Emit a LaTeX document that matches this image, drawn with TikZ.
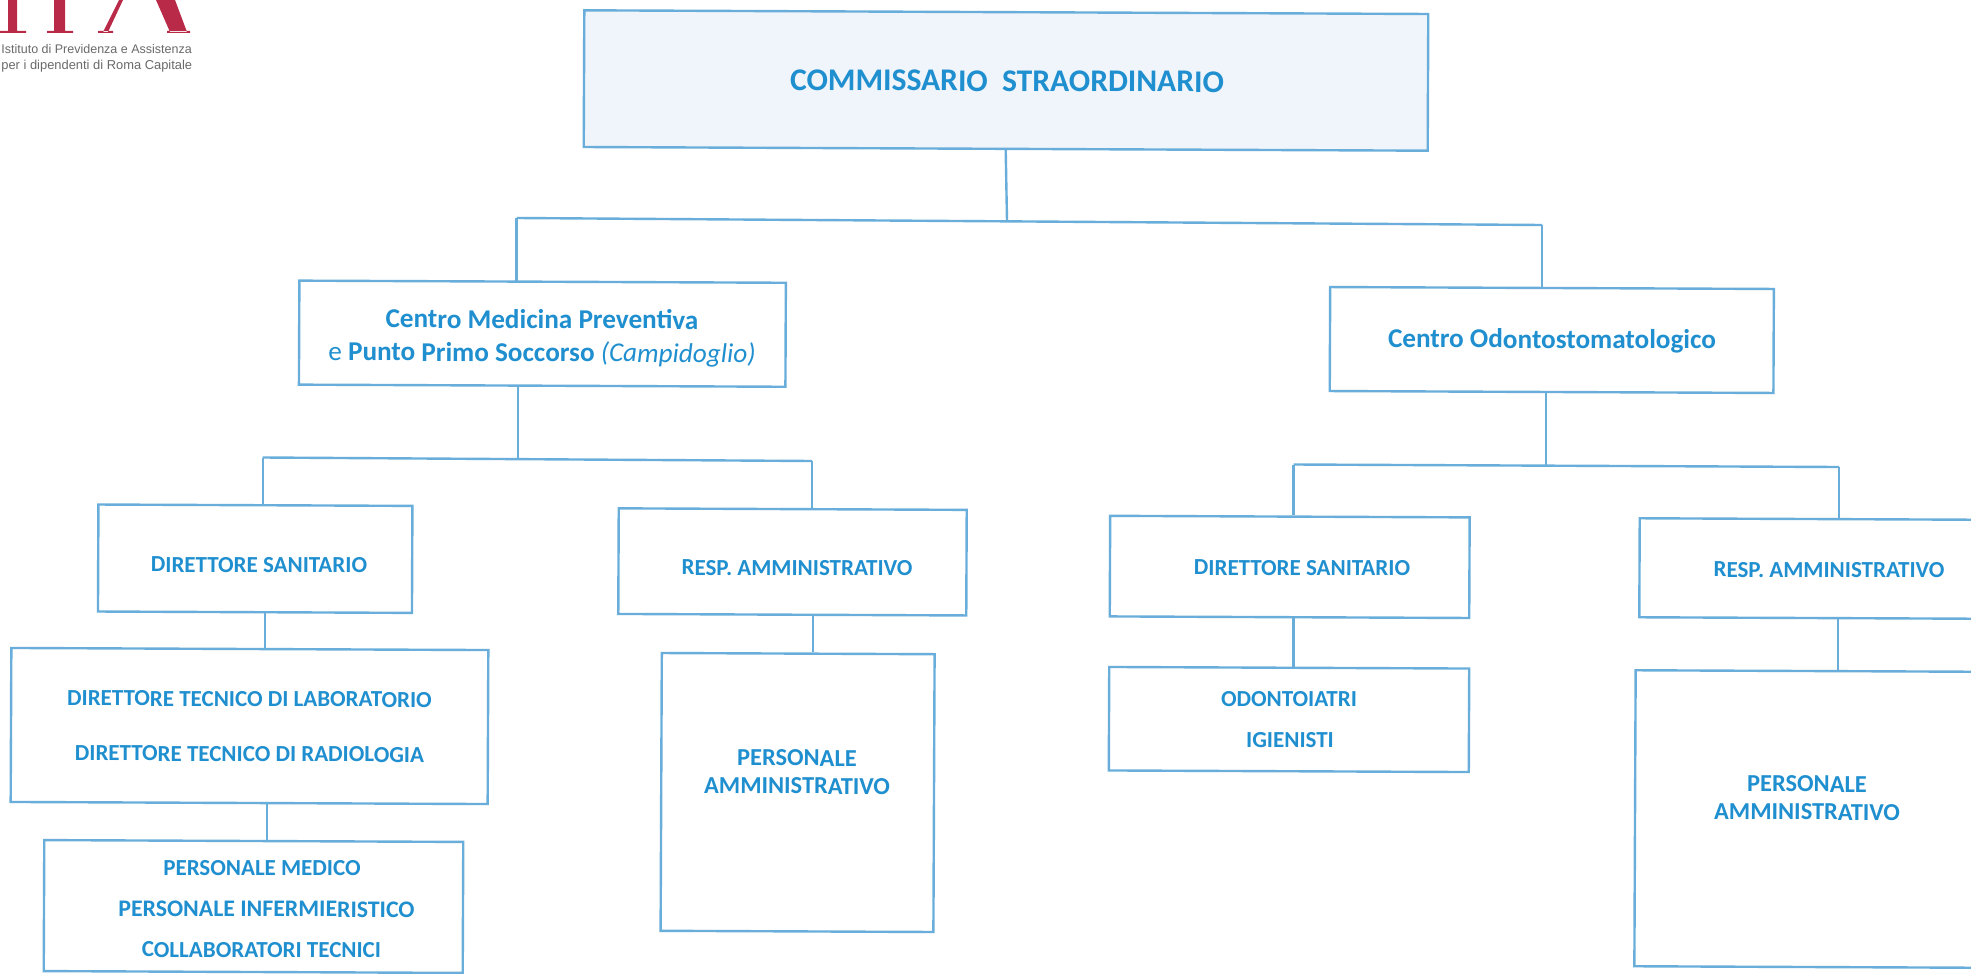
\documentclass[tikz,border=0pt]{standalone}
\usepackage{fontspec}
\setmainfont{Carlito}
\newfontfamily\logofont{Liberation Sans}
\definecolor{linecol}{HTML}{69AEDA}
\definecolor{textcol}{HTML}{1F8FCF}
\definecolor{topfill}{HTML}{F0F5FB}
\definecolor{logored}{HTML}{B82A48}
\definecolor{logogrey}{HTML}{6A6A6A}
\tikzset{
  chartbox/.style={draw=linecol,line width=1.2pt,rotate=-0.25,inner sep=0pt},
  bsize/.style 2 args={minimum width=#1*0.5pt,minimum height=#2*0.5pt},
  conn/.style={draw=linecol,line width=1.2pt},
  lbl/.style={text=textcol,font=\bfseries\fontsize{11.5}{13}\selectfont,rotate=-0.25,inner sep=0pt},
  palbl/.style={lbl,font=\bfseries\fontsize{12.2}{14}\selectfont},
  midlbl/.style={lbl,font=\bfseries\fontsize{13.6}{16}\selectfont},
  logotext/.style={text=logogrey,font=\logofont\fontsize{6.45}{7}\selectfont,inner sep=0pt,anchor=west}
}
\begin{document}
\begin{tikzpicture}[x=0.5pt,y=-0.5pt]
\clip (0,0) rectangle (1971,974);
\fill[white] (0,0) rectangle (1971,974);
% logo
\fill[logored] (0,31) rectangle (26,33) (8,0) rectangle (17,32);
\fill[logored] (47,31) rectangle (73,33) (54,0) rectangle (65,32);
\fill[logored] (98,31) rectangle (113,33) (103,32) -- (119,0) -- (123,0) -- (108,32) -- cycle;
\fill[logored] (167,31) rectangle (190,33) (170,32) -- (156,0) -- (175,0) -- (187,32) -- cycle;
\node[logotext,font=\logofont\fontsize{6.25}{7}\selectfont] (logoA) at (1,49.5) {Istituto di Previdenza e Assistenza};
\node[logotext] (logoB) at (1,66) {per i dipendenti di Roma Capitale};
% boxes
\node[chartbox,fill=topfill,bsize={844}{136.7}] (top) at (1006,80.5) {};
\node[chartbox,bsize={486.5}{104}] (cmp) at (542.4,333.7) {};
\node[chartbox,bsize={443.7}{104}] (odo) at (1551.8,340) {};
\node[chartbox,bsize={314}{107}] (dsa) at (255.2,558.7) {};
\node[chartbox,bsize={348}{105.6}] (raa) at (792.5,561.9) {};
\node[chartbox,bsize={477}{154}] (dtl) at (249.5,726) {};
\node[chartbox,bsize={419}{131}] (pme) at (253.5,906.5) {};
\node[chartbox,bsize={272.8}{277.8}] (paa) at (797.6,792.5) {};
\node[chartbox,bsize={359.5}{100.6}] (dsb) at (1289.7,566.9) {};
\node[chartbox,bsize={360}{103.5}] (ods) at (1289,719.5) {};
\node[chartbox,bsize={335}{99}] (rab) at (1807,568.5) {};
\node[chartbox,bsize={340}{296}] (pab) at (1805,819) {};
% labels
\node[lbl,font=\bfseries\fontsize{15.8}{18}\selectfont] (t0) at (1007,81) {COMMISSARIO\ \ STRAORDINARIO};
\node[midlbl] (t1) at (542,319) {Centro Medicina Preventiva};
\node[midlbl] (t2) at (542,354) {\mdseries e \bfseries Punto Primo Soccorso \mdseries\itshape (Campidoglio)};
\node[midlbl] (t3) at (1552,341) {Centro Odontostomatologico};
\node[lbl] (t4) at (259,565) {DIRETTORE SANITARIO};
\node[lbl] (t5) at (797,568) {RESP. AMMINISTRATIVO};
\node[lbl] (t6) at (249.5,699) {DIRETTORE TECNICO DI LABORATORIO};
\node[lbl] (t7) at (249.5,754) {DIRETTORE TECNICO DI RADIOLOGIA};
\node[lbl] (t8) at (262,868) {PERSONALE MEDICO};
\node[lbl,font=\bfseries\fontsize{11.9}{13}\selectfont] (t9) at (266.5,909) {PERSONALE INFERMIERISTICO};
\node[lbl] (t10) at (261.5,950) {COLLABORATORI TECNICI};
\node[palbl] (t11) at (797,758) {PERSONALE};
\node[palbl] (t12) at (797,786) {AMMINISTRATIVO};
\node[lbl] (t13) at (1302,568) {DIRETTORE SANITARIO};
\node[lbl] (t14) at (1829,570) {RESP. AMMINISTRATIVO};
\node[lbl] (t15) at (1289,699) {ODONTOIATRI};
\node[lbl] (t16) at (1290,740) {IGIENISTI};
\node[palbl] (t17) at (1807,784) {PERSONALE};
\node[palbl] (t18) at (1807,812) {AMMINISTRATIVO};
% junctions
\coordinate (j0) at (1007,221);
\coordinate (j0l) at (516.6,218);
\coordinate (j0r) at (1542,225);
\coordinate (j1) at (518,459.5);
\coordinate (j1l) at (262.7,457.5);
\coordinate (j1r) at (812,461);
\coordinate (j2) at (1546,466);
\coordinate (j2l) at (1293.5,464.5);
\coordinate (j2r) at (1839,467);
\coordinate (x1) at (265,0);
\coordinate (x2) at (267,0);
\coordinate (x3) at (813,0);
\coordinate (x4) at (1293.5,0);
\coordinate (x5) at (1838,0);
% connectors
\draw[conn] (top.south) -- (j0);
\draw[conn] (j0l) -- (j0r);
\draw[conn] (j0l) -- (j0l |- cmp.north);
\draw[conn] (j0r) -- (j0r |- odo.north);
\draw[conn] (j1 |- cmp.south) -- (j1);
\draw[conn] (j1l) -- (j1r);
\draw[conn] (j1l) -- (j1l |- dsa.north);
\draw[conn] (j1r) -- (j1r |- raa.north);
\draw[conn] (j2 |- odo.south) -- (j2);
\draw[conn] (j2l) -- (j2r);
\draw[conn] (j2l) -- (j2l |- dsb.north);
\draw[conn] (j2r) -- (j2r |- rab.north);
\draw[conn] (x1 |- dsa.south) -- (x1 |- dtl.north);
\draw[conn] (x2 |- dtl.south) -- (x2 |- pme.north);
\draw[conn] (x3 |- raa.south) -- (x3 |- paa.north);
\draw[conn] (x4 |- dsb.south) -- (x4 |- ods.north);
\draw[conn] (x5 |- rab.south) -- (x5 |- pab.north);
\end{tikzpicture}
\end{document}
